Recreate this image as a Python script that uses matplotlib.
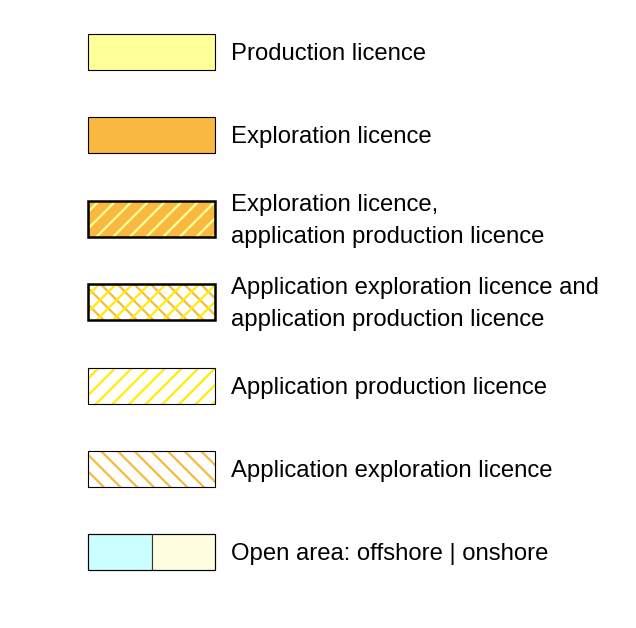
import matplotlib.pyplot as plt
from matplotlib.patches import Rectangle

plt.rcParams['font.family'] = ['Liberation Sans', 'DejaVu Sans']
plt.rcParams['hatch.linewidth'] = 1.6

labels = [
    "Production licence",
    "Exploration licence",
    "Exploration licence,\napplication production licence",
    "Application exploration licence and\napplication production licence",
    "Application production licence",
    "Application exploration licence",
    "Open area: offshore | onshore",
]
fills = ["#FFFF99", "#F9B941", "#F9B941", "white", "white", "white", None]
hatches = [[], [], [("//", "#FFFF99")], [("\\\\", "#F9B941"), ("//", "#FFEE00")],
           [("//", "#FFEE00")], [("\\\\", "#F9B941")], []]
thick = [False, False, True, True, False, False, False]
open_colors = ["#CCFFFF", "#FFFDE0"]

fig = plt.figure(figsize=(6.36, 6.28), dpi=100)
ax = fig.add_axes([0, 0, 1, 1])
ax.set_xlim(0, 636)
ax.set_ylim(628, 0)
ax.axis("off")

x0, w, h = 88, 127, 36
top0, step = 34, 83.4

for i, lab in enumerate(labels):
    y = top0 + i * step
    if fills[i] is None:
        ax.add_patch(Rectangle((x0, y), w / 2, h, facecolor=open_colors[0], edgecolor="#333333", lw=0.8))
        ax.add_patch(Rectangle((x0 + w / 2, y), w / 2, h, facecolor=open_colors[1], edgecolor="#333333", lw=0.8))
    else:
        ax.add_patch(Rectangle((x0, y), w, h, facecolor=fills[i], edgecolor="none"))
    for hp, hc in hatches[i]:
        ax.add_patch(Rectangle((x0, y), w, h, facecolor="none", edgecolor=hc, hatch=hp, lw=0))
    ax.add_patch(Rectangle((x0, y), w, h, facecolor="none", edgecolor="black",
                           lw=1.8 if thick[i] else 0.8))
    ax.text(231, y + h / 2 + 2, lab, fontsize=17.2, va="center", ha="left",
            linespacing=1.6, color="black")

fig.savefig("out.png", dpi=100)
